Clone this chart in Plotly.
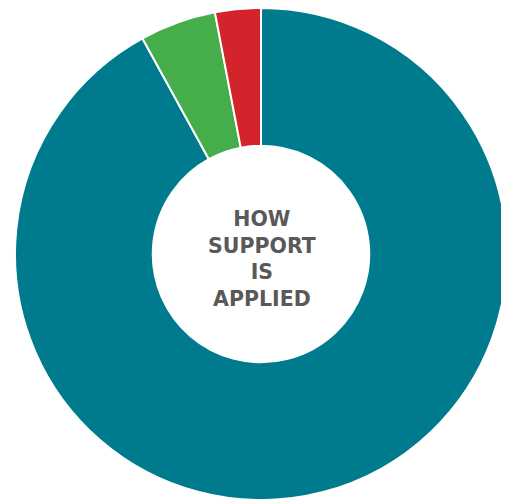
import plotly.graph_objects as go

labels = ["Teal", "Green", "Red"]
values = [92, 5, 3]
colors = ["#007b8e", "#45ae4b", "#d3242b"]
center_text = "HOW<br>SUPPORT<br>IS<br>APPLIED"

W, H = 509, 499
# page body adds ~8px offset, so compensate
off = 8
cx, cy, r = 261 - off, 254 - off, 246

fig = go.Figure(go.Pie(
    labels=labels, values=values, hole=0.44, sort=False,
    direction="clockwise", rotation=0,
    marker=dict(colors=colors, line=dict(color="white", width=2)),
    textinfo="none", hoverinfo="label+percent", showlegend=False,
    domain=dict(x=[max(0, (cx - r) / W), min(1, (cx + r) / W)],
                y=[max(0, (H - cy - r) / H), min(1, (H - cy + r) / H)]),
))
fig.add_annotation(
    x=(cx + 1) / W, y=(H - cy - 5) / H, xref="paper", yref="paper",
    text="<b>" + center_text + "</b>", showarrow=False,
    font=dict(family="DejaVu Sans", size=20.5, color="#595959"),
    align="center",
)
fig.update_layout(width=W, height=H, margin=dict(l=0, r=0, t=0, b=0),
                  paper_bgcolor="white", plot_bgcolor="white")
fig.write_html("out.html")
